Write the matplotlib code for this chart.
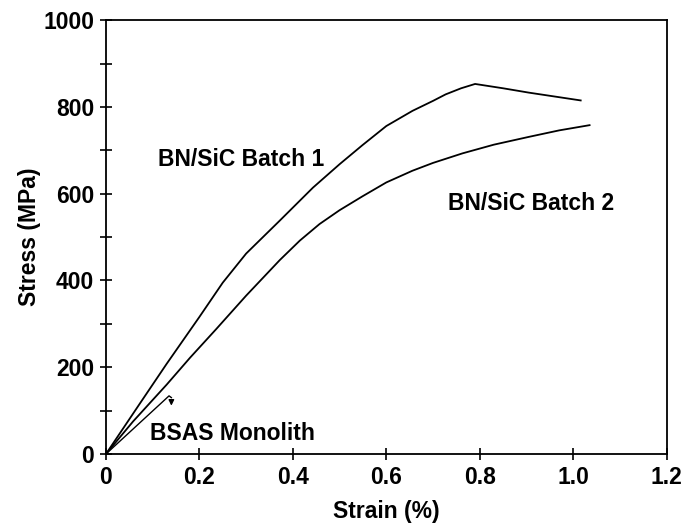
import matplotlib
matplotlib.use("Agg")
import matplotlib.pyplot as plt
from matplotlib.ticker import MultipleLocator

plt.rcParams['font.family'] = ['Liberation Sans', 'DejaVu Sans']
plt.rcParams['font.weight'] = 'bold'

# Data
batch1_strain = [0, 0.073, 0.13, 0.20, 0.25, 0.30, 0.372, 0.443, 0.50, 0.549, 0.60, 0.656, 0.70, 0.727, 0.76, 0.79, 0.85, 0.905, 1.016]
batch1_stress = [0, 117, 208, 316, 395, 462, 538, 614, 668, 712, 756, 791, 814, 829, 843, 853, 843, 833, 815]

batch2_strain = [0, 0.058, 0.13, 0.18, 0.236, 0.30, 0.372, 0.415, 0.457, 0.50, 0.549, 0.60, 0.656, 0.70, 0.763, 0.83, 0.905, 0.97, 1.035]
batch2_stress = [0, 75, 160, 222, 288, 365, 447, 492, 530, 562, 594, 626, 653, 671, 693, 713, 731, 746, 758]

mono_strain = [0, 0.135, 0.14]
mono_stress = [0, 134, 130]
mono_fail_stress = 105

x_ticks = [0, 0.2, 0.4, 0.6, 0.8, 1.0, 1.2]
x_tick_labels = ['0', '0.2', '0.4', '0.6', '0.8', '1.0', '1.2']
y_ticks = [0, 200, 400, 600, 800, 1000]

fig = plt.figure(figsize=(6.88, 5.31), dpi=100)
ax = fig.add_axes([0.154, 0.145, 0.815, 0.817])

lw = 1.3
ax.plot(batch1_strain, batch1_stress, color='black', lw=lw)
ax.plot(batch2_strain, batch2_stress, color='black', lw=lw)
ax.plot(mono_strain, mono_stress, color='black', lw=1.0)
ax.annotate('', xy=(mono_strain[-1], mono_fail_stress), xytext=(mono_strain[-1], mono_stress[-1]),
            arrowprops=dict(arrowstyle='-|>', color='black', lw=1.0, mutation_scale=8))

ax.set_xlim(0, 1.2)
ax.set_ylim(0, 1000)
ax.set_xticks(x_ticks)
ax.set_xticklabels(x_tick_labels)
ax.set_yticks(y_ticks)
ax.yaxis.set_minor_locator(MultipleLocator(100))

fs = 16.5
ax.tick_params(axis='both', which='major', direction='inout', length=9, width=1.2,
               labelsize=fs, pad=4)
ax.tick_params(axis='y', which='minor', direction='inout', length=8, width=1.2)
for lab in ax.get_xticklabels() + ax.get_yticklabels():
    lab.set_fontweight('bold')

for s in ax.spines.values():
    s.set_linewidth(1.3)

ax.text(0.112, 680, 'BN/SiC Batch 1', fontsize=fs, fontweight='bold', va='center', ha='left')
ax.text(0.733, 577, 'BN/SiC Batch 2', fontsize=fs, fontweight='bold', va='center', ha='left')
ax.text(0.094, 48, 'BSAS Monolith', fontsize=fs, fontweight='bold', va='center', ha='left')

ax.set_xlabel('Strain (%)', fontsize=fs, fontweight='bold')
ax.set_ylabel('Stress (MPa)', fontsize=fs, fontweight='bold')
ax.xaxis.set_label_coords(0.5, -0.105)
ax.yaxis.set_label_coords(-0.115, 0.5)

fig.savefig('out.png', dpi=100)
